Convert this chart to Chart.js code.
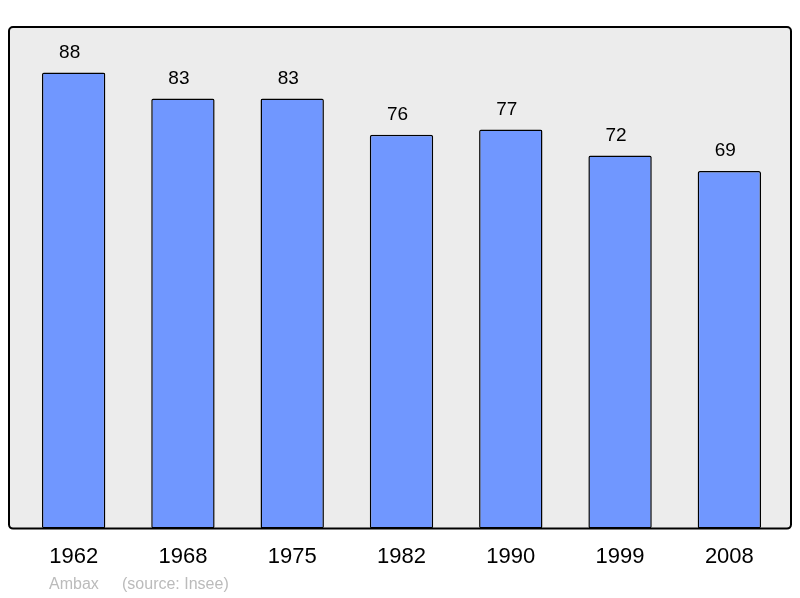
<!DOCTYPE html>
<html>
<head>
<meta charset="utf-8">
<script src="https://cdn.jsdelivr.net/npm/chart.js@4"></script>
<style>
  html, body { margin: 0; padding: 0; background: #fff; }
  #wrap { width: 800px; height: 598px; }
</style>
</head>
<body>
<div id="wrap"><canvas id="popChart" width="800" height="598"></canvas></div>
<script>
// Données
const years = ["1962", "1968", "1975", "1982", "1990", "1999", "2008"];
const population = [88, 83, 83, 76, 77, 72, 69];
const footerAuthor = "Ambax";
const footerSource = "(source: Insee)";

// Cadre gris derrière les barres
const framePlugin = {
    id: 'frame',
    beforeDatasetsDraw(chart) {
        const a = chart.chartArea;
        const ctx = chart.ctx;
        ctx.save();
        ctx.beginPath();
        ctx.roundRect(a.left - 10, a.top, a.right - a.left + 17, a.bottom - a.top, 4);
        ctx.fillStyle = '#ececec';
        ctx.fill();
        ctx.restore();
    },
    afterDatasetsDraw(chart) {
        const a = chart.chartArea;
        const ctx = chart.ctx;
        ctx.save();
        ctx.beginPath();
        ctx.roundRect(a.left - 10, a.top, a.right - a.left + 17, a.bottom - a.top, 4);
        ctx.lineWidth = 2;
        ctx.strokeStyle = '#000';
        ctx.stroke();

        // valeurs au-dessus des barres
        ctx.font = '19px "Liberation Sans", Arial, sans-serif';
        ctx.fillStyle = '#000';
        ctx.textAlign = 'center';
        ctx.textBaseline = 'alphabetic';
        chart.getDatasetMeta(0).data.forEach((bar, i) => {
            ctx.fillText(population[i], bar.x - 4, bar.y - 15);
        });

        // pied de page
        ctx.font = '16px "Liberation Sans", Arial, sans-serif';
        ctx.fillStyle = '#bbbbbb';
        ctx.textAlign = 'left';
        ctx.fillText(footerAuthor, a.left + 30, 589);
        ctx.fillText(footerSource, a.left + 103, 589);
        ctx.restore();
    }
};

const ctx = document.getElementById('popChart').getContext('2d');
new Chart(ctx, {
    type: 'bar',
    data: {
        labels: years,
        datasets: [{
            data: population,
            backgroundColor: '#7097ff',
            borderColor: '#000',
            borderWidth: 1.5,
            borderRadius: 2,
            borderSkipped: false,
            barPercentage: 0.58,
            categoryPercentage: 1.0
        }]
    },
    options: {
        responsive: false,
        animation: false,
        events: [],
        layout: { padding: { left: 19, right: 16, top: 27, bottom: 21 } },
        plugins: {
            legend: { display: false },
            tooltip: { enabled: false }
        },
        scales: {
            x: {
                grid: { display: false },
                border: { display: false },
                ticks: {
                    color: '#000',
                    padding: 7,
                    font: { family: '"Liberation Sans", Arial, sans-serif', size: 22 }
                }
            },
            y: {
                display: false,
                min: 0,
                max: 96.8
            }
        }
    },
    plugins: [framePlugin]
});
</script>
</body>
</html>
